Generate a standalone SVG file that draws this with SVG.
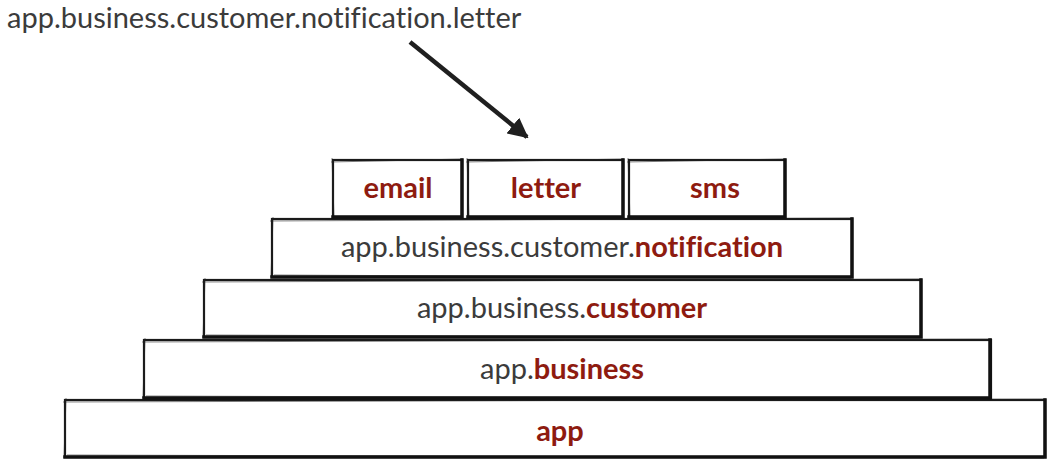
<svg xmlns="http://www.w3.org/2000/svg" width="1054" height="464" viewBox="0 0 1054 464">
<style>
.box{fill:#fff;stroke:#1a1a1a;stroke-width:2.2}
.sk{fill:none;stroke:#222;stroke-width:1;opacity:0.55}
.sh{fill:none;stroke:#111;stroke-width:3.5;stroke-linecap:square}
.t{font-family:Lato,"Open Sans","Liberation Sans",sans-serif;font-size:29px;fill:#3b3b3b;text-anchor:middle;font-variant-ligatures:none}
.b{font-weight:bold;fill:#8e1b10}
</style>
<defs>
<marker id="ah" viewBox="0 0 10 10" refX="9" refY="5" markerWidth="4.5" markerHeight="4.5" orient="auto">
<path d="M0,0 L10,5 L0,10 z" fill="#1f1f1f"/>
</marker>
</defs>
<text x="7" y="28" class="t" style="text-anchor:start">app.business.customer.notification.letter</text>
<g id="connectors">
<line x1="410" y1="42" x2="527" y2="137" stroke="#1f1f1f" stroke-width="4.5" marker-end="url(#ah)"/>
</g>
<g id="app">
<rect class="box" x="65" y="400" width="980" height="57"/>
<path class="sk" d="M63,402 L1046,399 M67,455 L1044,458 M66,398 L64,458"/>
<path class="sh" d="M1045,400 L1045,457 M65,457 L1045,457"/>
<text x="560" y="441" class="t b">app</text>
</g>
<g id="business">
<rect class="box" x="144" y="340" width="847" height="58"/>
<path class="sk" d="M142,342 L992,339 M146,396 L990,399 M145,338 L143,398"/>
<path class="sh" d="M990,340 L990,398 M144,398 L990,398"/>
<text x="562" y="379" class="t">app.<tspan class="b">business</tspan></text>
</g>
<g id="customer">
<rect class="box" x="204" y="280" width="717" height="57"/>
<path class="sk" d="M202,282 L922,279 M206,335 L920,338 M205,278 L203,338"/>
<path class="sh" d="M921,280 L921,337 M204,337 L921,337"/>
<text x="562" y="318" class="t">app.business.<tspan class="b">customer</tspan></text>
</g>
<g id="notification">
<rect class="box" x="272" y="219" width="580" height="58"/>
<path class="sk" d="M270,221 L853,218 M274,275 L851,278 M273,217 L271,277"/>
<path class="sh" d="M852,219 L852,277 M272,277 L852,277"/>
<text x="562" y="257" class="t">app.business.customer.<tspan class="b">notification</tspan></text>
</g>
<g id="email">
<rect class="box" x="333" y="160" width="129" height="57"/>
<path class="sk" d="M331,162 L463,159 M332,158 L334,218"/>
<path class="sh" d="M462,160 L462,217 M333,217 L462,217"/>
<text x="398" y="198" class="t b">email</text>
</g>
<g id="letter">
<rect class="box" x="468" y="160" width="155" height="57"/>
<path class="sk" d="M466,162 L624,159 M467,158 L469,218"/>
<path class="sh" d="M623,160 L623,217 M468,217 L623,217"/>
<text x="546" y="198" class="t b">letter</text>
</g>
<g id="sms">
<rect class="box" x="629" y="160" width="156" height="57"/>
<path class="sk" d="M627,162 L786,159 M628,158 L630,218"/>
<path class="sh" d="M785,160 L785,217 M629,217 L785,217"/>
<text x="715" y="198" class="t b">sms</text>
</g>
</svg>
